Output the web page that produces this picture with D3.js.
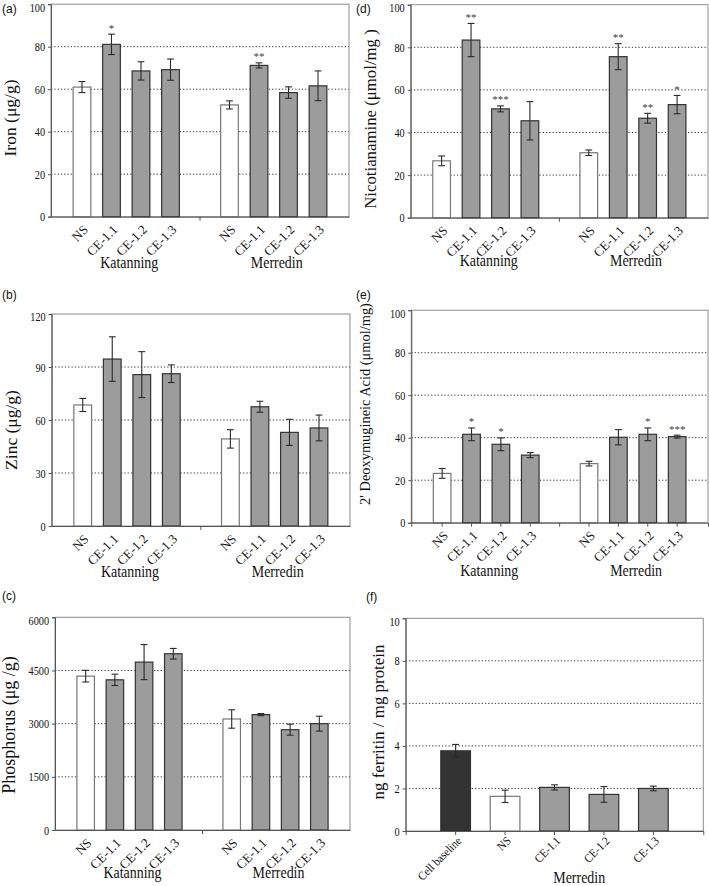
<!DOCTYPE html>
<html><head><meta charset="utf-8">
<script src="https://cdn.jsdelivr.net/npm/d3@7"></script>
<style>body{margin:0;background:#fff} svg{display:block}</style>
</head><body>
<script>
// ---------- data ----------
const categories = ["NS", "CE-1.1", "CE-1.2", "CE-1.3"];
const sites = ["Katanning", "Merredin"];

const ironMean = [61.0, 81.1, 68.6, 69.2, 52.6, 71.2, 58.4, 61.6];
const ironErr  = [2.6, 4.8, 4.3, 5.0, 1.9, 1.2, 2.7, 7.0];
const ironSig  = ["", "*", "", "", "", "**", "", ""];
const ironTicks = [0, 20, 40, 60, 80, 100];

const zincMean = [68.5, 94.5, 85.7, 86.2, 49.3, 67.5, 53.0, 55.5];
const zincErr  = [3.7, 12.6, 13.0, 5.0, 5.2, 3.1, 7.4, 7.3];
const zincSig  = ["", "", "", "", "", "", "", ""];
const zincTicks = [0, 30, 60, 90, 120];

const phosMean = [4340, 4236, 4736, 4972, 3132, 3255, 2830, 3000];
const phosErr  = [165, 160, 495, 150, 260, 30, 155, 210];
const phosSig  = ["", "", "", "", "", "", "", ""];
const phosTicks = [0, 1500, 3000, 4500, 6000];

const naMean = [26.7, 83.4, 51.1, 45.5, 30.5, 75.6, 46.7, 53.1];
const naErr  = [2.3, 7.8, 1.4, 9.0, 1.3, 6.1, 2.3, 4.3];
const naSig  = ["", "**", "***", "", "", "**", "**", "*"];
const naTicks = [0, 20, 40, 60, 80, 100];

const dmaMean = [23.2, 41.6, 36.9, 31.8, 27.8, 40.2, 41.6, 40.5];
const dmaErr  = [2.3, 3.0, 3.0, 1.2, 1.1, 3.6, 3.0, 0.7];
const dmaSig  = ["", "*", "*", "", "", "", "*", "***"];
const dmaTicks = [0, 20, 40, 60, 80, 100];

const ferritinCats = ["Cell baseline", "NS", "CE-1.1", "CE-1.2", "CE-1.3"];
const ferritinMean = [3.77, 1.63, 2.05, 1.72, 2.0];
const ferritinErr  = [0.30, 0.29, 0.12, 0.37, 0.11];
const ferritinTicks = [0, 2, 4, 6, 8, 10];

// ---------- drawing ----------
const W = 709, H = 886;
const SERIF = "'Liberation Serif','Times New Roman',Times,serif";
const SANS = "'Liberation Sans',Arial,Helvetica,sans-serif";
const K = 0.82; // horizontal squeeze of the reference's text
const FILL_GRAY = "#9c9c9c", FILL_DARK = "#333333", FILL_WHITE = "#ffffff";

const svg = d3.select("body").append("svg").attr("width", W).attr("height", H)
  .style("font-family", SERIF);

function squeeze(sel, k) {
  sel.each(function () {
    const len = this.getComputedTextLength();
    d3.select(this).attr("textLength", len * k).attr("lengthAdjust", "spacingAndGlyphs");
  });
}

const gapSlots = ["K|NS", "K|CE-1.1", "K|CE-1.2", "K|CE-1.3", "gap", "M|NS", "M|CE-1.1", "M|CE-1.2", "M|CE-1.3"];

const panels = [
  {lab: "(a)", labX: 2, labY: 13, title: "Iron (μg/g)", tSize: 17.5, tX: 10, tY: 118,
   box: [51, 4.2, 349, 216.7], ticks: ironTicks, mean: ironMean, err: ironErr, sig: ironSig, allTicks: false, grpY: 268},
  {lab: "(d)", labX: 356, labY: 13, title: "Nicotianamine (μmol/mg )", tSize: 16.8, tX: 370, tY: 119,
   box: [410.7, 4.7, 708, 217.7], ticks: naTicks, mean: naMean, err: naErr, sig: naSig, allTicks: false, grpY: 266},
  {lab: "(b)", labX: 2, labY: 299, title: "Zinc (μg/g)", tSize: 17.5, tX: 11, tY: 430,
   box: [51.7, 314, 350, 526], ticks: zincTicks, mean: zincMean, err: zincErr, sig: zincSig, allTicks: false, grpY: 577},
  {lab: "(e)", labX: 356, labY: 299, title: "2' Deoxymugineic Acid (μmol/mg)", tSize: 14.4, tX: 365, tY: 404,
   box: [411.3, 310.2, 708, 522.7], ticks: dmaTicks, mean: dmaMean, err: dmaErr, sig: dmaSig, allTicks: true, grpY: 576},
  {lab: "(c)", labX: 2, labY: 600, title: "Phosphorus (μg /g)", tSize: 18, tX: 9, tY: 725,
   box: [55, 617.3, 350, 830], ticks: phosTicks, mean: phosMean, err: phosErr, sig: phosSig, allTicks: false, grpY: 878}
];

function drawPanel(p, slots, x, values, errs, sigs, fills, strokes, tickLabels, allTicks, xl) {
  const [l, t, r, b] = p.box;
  const y = d3.scaleLinear().domain([0, d3.max(p.ticks)]).range([b, t]);
  const g = svg.append("g");

  // grid lines
  g.selectAll(".grid").data(p.ticks.filter((v, i) => i > 0 && i < p.ticks.length - 1))
    .join("line").attr("x1", l).attr("x2", r).attr("y1", d => y(d)).attr("y2", d => y(d))
    .attr("stroke", "#3a3a3a").attr("stroke-width", 1).attr("stroke-dasharray", "1.3,2");

  // frame
  g.append("rect").attr("x", l).attr("y", t).attr("width", r - l).attr("height", b - t)
    .attr("fill", "none").attr("stroke", "#8c8c8c").attr("stroke-width", 1);

  // bars
  const idx = d3.range(values.length);
  g.selectAll(".bar").data(idx).join("rect")
    .attr("x", i => x(slots[i])).attr("width", x.bandwidth())
    .attr("y", i => y(values[i])).attr("height", i => b - y(values[i]))
    .attr("fill", i => fills[i]).attr("stroke", i => strokes[i]).attr("stroke-width", 1.2);

  // error bars
  const cx = i => x(slots[i]) + x.bandwidth() / 2;
  const cap = 3.4;
  const eg = g.append("g").attr("stroke", "#2a2a2a").attr("stroke-width", 1.1);
  eg.selectAll(".ev").data(idx).join("line")
    .attr("x1", cx).attr("x2", cx).attr("y1", i => y(values[i] + errs[i])).attr("y2", i => y(values[i] - errs[i]));
  eg.selectAll(".et").data(idx).join("line")
    .attr("x1", i => cx(i) - cap).attr("x2", i => cx(i) + cap)
    .attr("y1", i => y(values[i] + errs[i])).attr("y2", i => y(values[i] + errs[i]));
  eg.selectAll(".eb").data(idx).join("line")
    .attr("x1", i => cx(i) - cap).attr("x2", i => cx(i) + cap)
    .attr("y1", i => y(values[i] - errs[i])).attr("y2", i => y(values[i] - errs[i]));

  // significance
  g.selectAll(".sig").data(idx.filter(i => sigs[i])).join("text")
    .attr("transform", i => `translate(${cx(i)},${y(values[i] + errs[i]) - 2.5}) rotate(0.01)`)
    .attr("text-anchor", "middle").attr("font-size", 11).attr("fill", "#404040")
    .text(i => sigs[i]);

  // y axis
  const ya = g.append("g").attr("transform", `translate(${l},0)`)
    .call(d3.axisLeft(y).tickValues(p.ticks).tickSize(3).tickPadding(3).tickFormat(d3.format("d")));
  ya.select(".domain").attr("stroke", "#555");
  ya.selectAll(".tick line").attr("stroke", "#555");
  ya.selectAll("text").attr("font-family", SERIF).attr("font-size", 12.5).attr("fill", "#111").call(squeeze, K);
  ya.selectAll(".tick").filter(d => d === d3.max(p.ticks)).select("text").attr("dy", "0.55em");

  // x axis
  const xa = g.append("g").attr("transform", `translate(0,${b})`)
    .call(d3.axisBottom(x).tickSize(allTicks ? 4 : 0).tickFormat(d => tickLabels(d)));
  xa.select(".domain").attr("stroke", "#555");
  xa.selectAll(".tick line").attr("stroke", "#555");
  if (!allTicks) {
    xa.selectAll(".tick").filter(d => d === "gap").select("line").attr("y2", 4);
  }
  xa.selectAll("text").attr("font-family", SERIF).attr("font-size", xl.size).attr("fill", "#111")
    .attr("text-anchor", "end").attr("x", 0).attr("y", 0).attr("dy", "0.3em")
    .attr("transform", `translate(${xl.dx},${xl.dy}) rotate(-45)`);
  if (xl.k) xa.selectAll("text").call(squeeze, xl.k);

  // y title
  svg.append("text").attr("transform", `translate(${p.tX},${p.tY}) rotate(-90)`)
    .attr("text-anchor", "middle").attr("dominant-baseline", "central")
    .attr("font-size", p.tSize).attr("fill", "#111").text(p.title);

  // panel label
  svg.append("text").attr("x", p.labX).attr("y", p.labY).attr("font-family", SANS)
    .attr("font-size", 12).attr("fill", "#111").text(p.lab);
  return {y, cx};
}

panels.forEach(p => {
  const [l, t, r, b] = p.box;
  const x = d3.scaleBand().domain(gapSlots).range([l, r]).paddingInner(0.4).paddingOuter(0.75);
  const slots = p.mean.map((v, i) => gapSlots[i < 4 ? i : i + 1]);
  const fills = p.mean.map((v, i) => i % 4 === 0 ? FILL_WHITE : FILL_GRAY);
  const strokes = p.mean.map((v, i) => i % 4 === 0 ? "#777" : "#333");
  const lbl = d => d === "gap" ? "" : d.split("|")[1];
  const res = drawPanel(p, slots, x, p.mean, p.err, p.sig, fills, strokes, lbl, p.allTicks, {size: 13, dx: 4, dy: 11});
  sites.forEach((s, si) => {
    const cs = [0, 1, 2, 3].map(j => res.cx(si * 4 + j));
    svg.append("text").attr("x", d3.mean(cs) + 3).attr("y", p.grpY)
      .attr("text-anchor", "middle").attr("font-size", 17).attr("fill", "#111")
      .text(s).call(squeeze, K);
  });
});

// panel (f)
{
  const p = {lab: "(f)", labX: 366, labY: 601, title: "ng ferritin / mg protein", tSize: 16.9, tX: 378, tY: 722,
    box: [405.7, 618.3, 703.3, 831], ticks: ferritinTicks};
  const [l, t, r, b] = p.box;
  const x = d3.scaleBand().domain(ferritinCats).range([l, r]).paddingInner(0.4).paddingOuter(0.71);
  const fills = ferritinCats.map((c, i) => i === 0 ? FILL_DARK : (i === 1 ? FILL_WHITE : FILL_GRAY));
  const strokes = ferritinCats.map((c, i) => i === 1 ? "#777" : "#333");
  const res = drawPanel(p, ferritinCats, x, ferritinMean, ferritinErr, ferritinCats.map(() => ""), fills, strokes, d => d, true,
    {size: 12, dx: 4, dy: 8, k: 0.9});
  const cs = [1, 2, 3, 4].map(res.cx);
  svg.append("text").attr("x", d3.mean(cs)).attr("y", 883).attr("text-anchor", "middle")
    .attr("font-size", 17).attr("fill", "#111").text(sites[1]).call(squeeze, K);
}
</script>
</body></html>
